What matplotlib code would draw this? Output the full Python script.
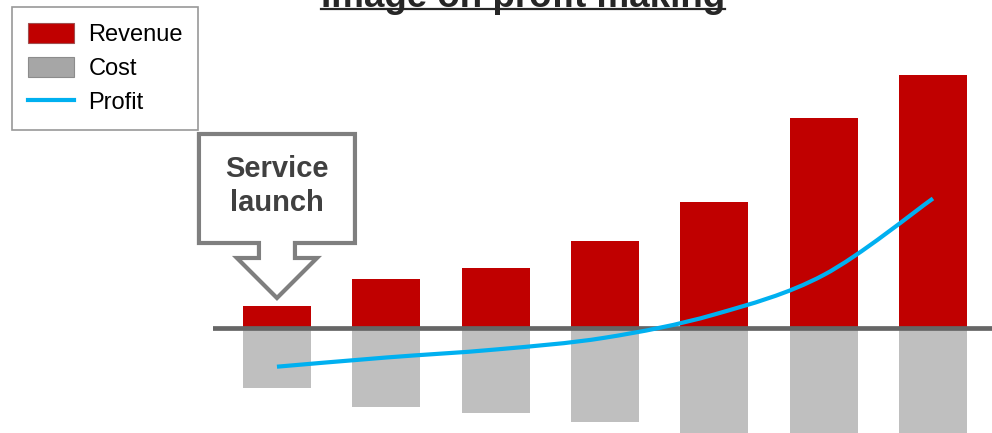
import matplotlib
matplotlib.use("Agg")
import matplotlib.pyplot as plt
import numpy as np
from matplotlib.path import Path
from matplotlib.patches import PathPatch, Patch, Polygon
from matplotlib.lines import Line2D
import matplotlib.transforms as mtransforms

plt.rcParams['font.family'] = ['Liberation Sans', 'DejaVu Sans']

# data (arbitrary units)
periods = [0, 1, 2, 3, 4, 5, 6]
revenue = [21.5, 48.5, 59.5, 86.5, 125.5, 209.5, 252.5]
cost = [60.5, 79.5, 85, 94, 110, 114, 118]
profit = [-39.2, -30, -22, -10.2, 13, 52.5, 129]
labels = ["Revenue", "Cost", "Profit"]
title = "Image on profit making"
callout = "Service\nlaunch"

red = '#C00000'
grey_bar = '#BFBFBF'
blue = '#00B0F0'

fig = plt.figure(figsize=(9.92, 4.33), dpi=100)
ax = fig.add_axes([213 / 992, 0, 779 / 992, 1])
ax.set_xlim(-0.585, 6.54)
ax.set_ylim(-105.5, 327.5)
ax.axis('off')

x = np.array(periods, dtype=float)
ax.bar(x, revenue, width=0.622, color=red, zorder=2)
ax.bar(x, -np.array(cost), width=0.622, color=grey_bar, zorder=2)
ax.axhline(0, color='#666666', lw=3.4, zorder=3)

# smoothed profit line (catmull-rom as cubic beziers through the points)
pts = np.column_stack([x, profit])
verts = [pts[0]]
codes = [Path.MOVETO]
n = len(pts)
for i in range(n - 1):
    p0 = pts[max(i - 1, 0)]
    p1 = pts[i]
    p2 = pts[i + 1]
    p3 = pts[min(i + 2, n - 1)]
    verts += [p1 + (p2 - p0) / 6, p2 - (p3 - p1) / 6, p2]
    codes += [Path.CURVE4] * 3
ax.add_patch(PathPatch(Path(verts, codes), fill=False, edgecolor=blue,
                       lw=3.0, capstyle='butt', zorder=4))

# callout "Service launch" above the first bar (offsets in pixels)
px = np.array([[-78, 172], [78, 172], [78, 63], [18, 63], [18, 48],
               [40, 48], [0, 8], [-40, 48], [-18, 48], [-18, 63],
               [-78, 63]]) / 100.0
trans = fig.dpi_scale_trans + mtransforms.ScaledTranslation(
    x[0], revenue[0], ax.transData)
ax.add_patch(Polygon(px, closed=True, transform=trans, facecolor='white',
                     edgecolor='#7F7F7F', lw=3.0, joinstyle='miter',
                     zorder=5, clip_on=False))
ax.text(0, 1.20, callout, transform=trans, ha='center', va='center',
        fontsize=21, fontweight='bold', color='#404040', linespacing=1.25,
        zorder=6, clip_on=False)

# title (cut off at the top), underlined by hand
t = fig.text(523 / 992, 1 - 7 / 433, title, ha='center', va='baseline',
             fontsize=26.5, fontweight='bold', color='#262626')
fig.canvas.draw()
bb = t.get_window_extent()
fig.add_artist(Line2D([bb.x0 / fig.bbox.width, bb.x1 / fig.bbox.width],
                      [1 - 8.8 / 433] * 2, color='#262626', lw=1.6))

handles = [Patch(facecolor=red, edgecolor='#A05050', lw=0.8),
           Patch(facecolor='#A6A6A6', edgecolor='#8C8C8C', lw=0.8),
           Line2D([0], [0], color=blue, lw=3.0)]
leg = fig.legend(handles, labels, loc='upper left',
                 bbox_to_anchor=(12 / 992, 1 - 7 / 433), fontsize=17,
                 frameon=True, fancybox=False, handlelength=1.95,
                 handleheight=0.97, handletextpad=0.62, labelspacing=0.45,
                 borderpad=0.66, borderaxespad=0)
leg.get_frame().set_edgecolor('#7F7F7F')
leg.get_frame().set_linewidth(1.2)

fig.savefig('out.png', dpi=100)
